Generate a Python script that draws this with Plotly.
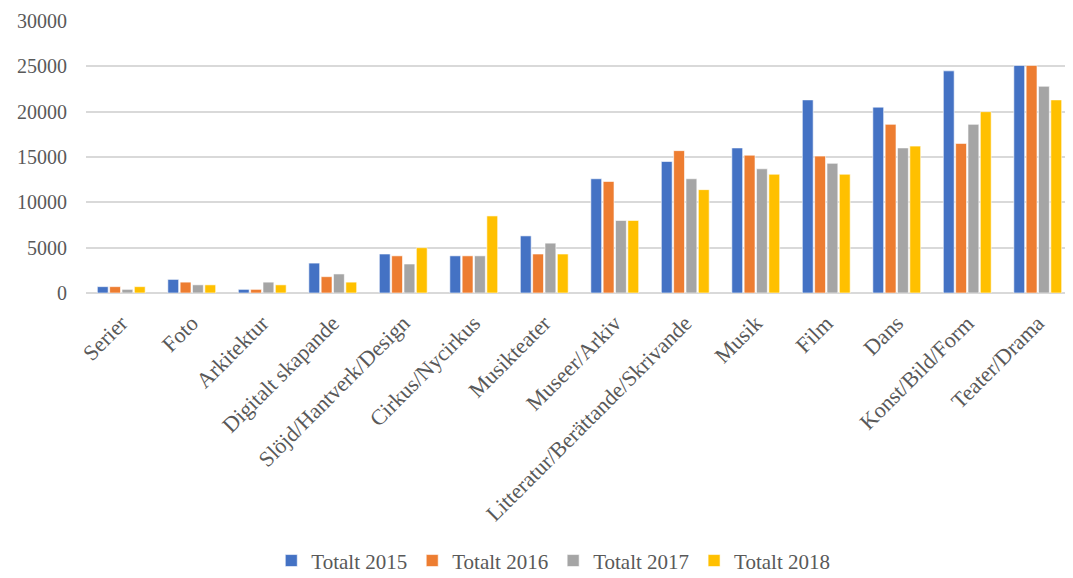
import plotly.graph_objects as go

categories = ["Serier", "Foto", "Arkitektur", "Digitalt skapande", "Slöjd/Hantverk/Design",
              "Cirkus/Nycirkus", "Musikteater", "Museer/Arkiv",
              "Litteratur/Berättande/Skrivande", "Musik", "Film", "Dans",
              "Konst/Bild/Form", "Teater/Drama"]
totalt_2015 = [700, 1500, 400, 3300, 4300, 4100, 6300, 12600, 14500, 16000, 21300, 20500, 24500, 25100]
totalt_2016 = [700, 1200, 400, 1800, 4100, 4100, 4300, 12300, 15700, 15200, 15100, 18600, 16500, 25100]
totalt_2017 = [400, 900, 1200, 2100, 3200, 4100, 5500, 8000, 12600, 13700, 14300, 16000, 18600, 22800]
totalt_2018 = [700, 900, 900, 1200, 5000, 8500, 4300, 8000, 11400, 13100, 13100, 16200, 20000, 21300]

series = [("Totalt 2015", totalt_2015, "#4472c4"),
          ("Totalt 2016", totalt_2016, "#ed7d31"),
          ("Totalt 2017", totalt_2017, "#a5a5a5"),
          ("Totalt 2018", totalt_2018, "#ffc000")]

font = "Liberation Serif, DejaVu Serif, serif"

fig = go.Figure()
for name, vals, color in series:
    fig.add_trace(go.Bar(x=categories, y=vals, name=name,
                         marker=dict(color=color, line=dict(color="white", width=0.6))))

# the page body adds an 8px margin, so the figure is 8px smaller than the window
fig.update_layout(
    width=1065, height=570,
    paper_bgcolor="white", plot_bgcolor="white",
    margin=dict(l=78, r=0, t=13, b=285),
    barmode="group", bargap=0.3, bargroupgap=0.12,
    font=dict(family=font, size=20, color="#595959"),
    showlegend=True,
    legend=dict(orientation="h", xref="container", yref="container",
                x=0.512, xanchor="center", y=0.03, yanchor="middle",
                font=dict(size=21, color="#595959"), itemwidth=30, traceorder="normal"),
    xaxis=dict(tickangle=-45, showgrid=False, showline=False, ticks="",
               tickfont=dict(size=22), ticklabelstandoff=12, automargin=False),
    yaxis=dict(range=[0, 30000], dtick=5000, tickformat="d", showgrid=True,
               gridcolor="#d9d9d9", gridwidth=1.5, zeroline=True,
               zerolinecolor="#d9d9d9", zerolinewidth=1.5, ticks="",
               tickfont=dict(size=20), ticklabelstandoff=18, automargin=False),
)

fig.write_html("out.html")
